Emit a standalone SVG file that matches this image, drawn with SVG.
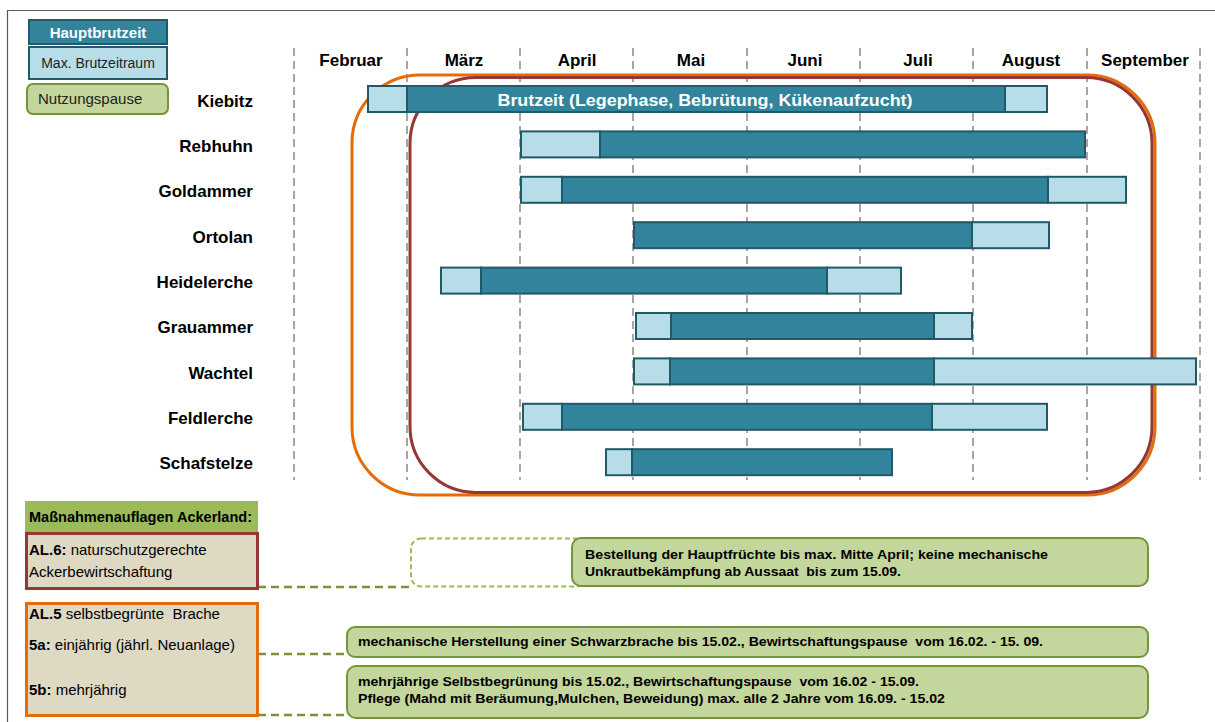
<svg xmlns="http://www.w3.org/2000/svg" width="1215" height="722" viewBox="0 0 1215 722">
<style>
text{font-family:"Liberation Sans",Arial,sans-serif;fill:#000}
.b{font-weight:bold}
.sp{font-size:17px;font-weight:bold;text-anchor:end}
.mo{font-size:17px;font-weight:bold;text-anchor:middle}
.d{fill:#31849B;stroke:#215968;stroke-width:2}
.l{fill:#B7DEE8;stroke:#215968;stroke-width:2}
.grid{stroke:#A6A6A6;stroke-width:2;stroke-dasharray:8,5}
.gb{fill:#C3D69B;stroke:#77933C;stroke-width:2}
.gt{font-size:13px;font-weight:bold}
.con{stroke:#77933C;stroke-width:2.5;stroke-dasharray:8,5;fill:none}
.bt{font-size:15px}
</style>
<rect x="0" y="0" width="1215" height="722" fill="#fff"/>
<path d="M7.5,722 V10.5 H1215" fill="none" stroke="#595959" stroke-width="1.2"/>

<g id="legend">
<rect x="29" y="20" width="138" height="24" class="d"/>
<text x="98" y="38" text-anchor="middle" class="b" style="font-size:15px;fill:#fff">Hauptbrutzeit</text>
<rect x="29" y="47" width="138" height="32" class="l"/>
<text x="98" y="68" text-anchor="middle" style="font-size:14px;fill:#222">Max. Brutzeitraum</text>
<rect x="27" y="84" width="141" height="30" rx="6" class="gb"/>
<text x="38" y="104" style="font-size:15px;fill:#222">Nutzungspause</text>
</g>

<g id="grid">
<line x1="294" y1="48" x2="294" y2="480" class="grid"/>
<line x1="407" y1="48" x2="407" y2="480" class="grid"/>
<line x1="520" y1="48" x2="520" y2="480" class="grid"/>
<line x1="633" y1="48" x2="633" y2="480" class="grid"/>
<line x1="747" y1="48" x2="747" y2="480" class="grid"/>
<line x1="860" y1="48" x2="860" y2="480" class="grid"/>
<line x1="973" y1="48" x2="973" y2="480" class="grid"/>
<line x1="1087" y1="48" x2="1087" y2="480" class="grid"/>
<line x1="1200" y1="48" x2="1200" y2="480" class="grid"/>
</g>

<g id="months">
<text x="351" y="66" class="mo">Februar</text>
<text x="464" y="66" class="mo">März</text>
<text x="577" y="66" class="mo">April</text>
<text x="691" y="66" class="mo">Mai</text>
<text x="805" y="66" class="mo">Juni</text>
<text x="918" y="66" class="mo">Juli</text>
<text x="1031" y="66" class="mo">August</text>
<text x="1145" y="66" class="mo">September</text>
</g>

<g id="zones">
<rect x="352" y="75" width="803" height="420" rx="68" ry="68" fill="none" stroke="#E46C0A" stroke-width="3"/>
<rect x="410" y="77.5" width="742" height="415" rx="66" ry="66" fill="none" stroke="#953735" stroke-width="3"/>
</g>

<g id="kiebitz">
<text x="253" y="107" class="sp">Kiebitz</text>
<rect x="368" y="86" width="39" height="26" class="l"/>
<rect x="407" y="86" width="598" height="26" class="d"/>
<rect x="1005" y="86" width="42" height="26" class="l"/>
<text x="705" y="106" text-anchor="middle" class="b" style="font-size:16px;fill:#fff" textLength="415" lengthAdjust="spacingAndGlyphs">Brutzeit (Legephase, Bebrütung, Kükenaufzucht)</text>
</g>
<g id="rebhuhn">
<text x="253" y="152" class="sp">Rebhuhn</text>
<rect x="521" y="131.4" width="79" height="26" class="l"/>
<rect x="600" y="131.4" width="485" height="26" class="d"/>
</g>
<g id="goldammer">
<text x="253" y="197" class="sp">Goldammer</text>
<rect x="521" y="176.8" width="41" height="26" class="l"/>
<rect x="562" y="176.8" width="486" height="26" class="d"/>
<rect x="1048" y="176.8" width="78" height="26" class="l"/>
</g>
<g id="ortolan">
<text x="253" y="243" class="sp">Ortolan</text>
<rect x="634" y="222.2" width="338" height="26" class="d"/>
<rect x="972" y="222.2" width="77" height="26" class="l"/>
</g>
<g id="heidelerche">
<text x="253" y="288" class="sp">Heidelerche</text>
<rect x="441" y="267.6" width="40" height="26" class="l"/>
<rect x="481" y="267.6" width="346" height="26" class="d"/>
<rect x="827" y="267.6" width="74" height="26" class="l"/>
</g>
<g id="grauammer">
<text x="253" y="333" class="sp">Grauammer</text>
<rect x="636" y="313" width="35" height="26" class="l"/>
<rect x="671" y="313" width="263" height="26" class="d"/>
<rect x="934" y="313" width="38" height="26" class="l"/>
</g>
<g id="wachtel">
<text x="253" y="379" class="sp">Wachtel</text>
<rect x="634" y="358.4" width="36" height="26" class="l"/>
<rect x="670" y="358.4" width="264" height="26" class="d"/>
<rect x="934" y="358.4" width="262" height="26" class="l"/>
</g>
<g id="feldlerche">
<text x="253" y="424" class="sp">Feldlerche</text>
<rect x="523" y="403.8" width="39" height="26" class="l"/>
<rect x="562" y="403.8" width="370" height="26" class="d"/>
<rect x="932" y="403.8" width="115" height="26" class="l"/>
</g>
<g id="schafstelze">
<text x="253" y="469" class="sp">Schafstelze</text>
<rect x="606" y="449.2" width="26" height="26" class="l"/>
<rect x="632" y="449.2" width="260" height="26" class="d"/>
</g>

<g id="connectors">
<path d="M258,587 H410" class="con"/>
<rect x="411" y="538.5" width="175" height="48" rx="10" fill="none" stroke="#9BBB59" stroke-width="2" stroke-dasharray="5,3"/>
<path d="M258,654 H347" class="con"/>
<path d="M258,715 H347" class="con"/>
</g>

<g id="massnahmen-header">
<rect x="25" y="501" width="233" height="31" fill="#9BBB59"/>
<text x="29" y="522" class="b" style="font-size:14px" textLength="223" lengthAdjust="spacingAndGlyphs">Maßnahmenauflagen Ackerland:</text>
</g>
<g id="al6">
<rect x="26.5" y="533.5" width="231" height="55" fill="#DDD9C3" stroke="#953735" stroke-width="3"/>
<text x="29" y="555" class="bt"><tspan class="b">AL.6:</tspan> naturschutzgerechte</text>
<text x="29" y="577" class="bt">Ackerbewirtschaftung</text>
</g>
<g id="al5">
<rect x="26.5" y="603.5" width="231" height="112" fill="#DDD9C3" stroke="#E46C0A" stroke-width="3"/>
<text x="29" y="619" class="bt" xml:space="preserve"><tspan class="b">AL.5</tspan> selbstbegrünte  Brache</text>
<text x="29" y="650" class="bt"><tspan class="b">5a:</tspan> einjährig (jährl. Neuanlage)</text>
<text x="29" y="695" class="bt"><tspan class="b">5b:</tspan> mehrjährig</text>
</g>

<g id="box-al6">
<rect x="572" y="538" width="576" height="48" rx="9" class="gb"/>
<text x="585" y="559" class="gt" textLength="463" lengthAdjust="spacingAndGlyphs">Bestellung der Hauptfrüchte bis max. Mitte April; keine mechanische</text>
<text x="585" y="576" class="gt" textLength="316" lengthAdjust="spacingAndGlyphs" xml:space="preserve">Unkrautbekämpfung ab Aussaat  bis zum 15.09.</text>
</g>
<g id="box-5a">
<rect x="347" y="627" width="801" height="30" rx="8" class="gb"/>
<text x="358" y="646" class="gt" textLength="685" lengthAdjust="spacingAndGlyphs" xml:space="preserve">mechanische Herstellung einer Schwarzbrache bis 15.02., Bewirtschaftungspause  vom 16.02. - 15. 09.</text>
</g>
<g id="box-5b">
<rect x="347" y="666" width="801" height="52" rx="9" class="gb"/>
<text x="358" y="686" class="gt" textLength="561" lengthAdjust="spacingAndGlyphs" xml:space="preserve">mehrjährige Selbstbegrünung bis 15.02., Bewirtschaftungspause  vom 16.02 - 15.09.</text>
<text x="358" y="703" class="gt" textLength="587" lengthAdjust="spacingAndGlyphs">Pflege (Mahd mit Beräumung,Mulchen, Beweidung) max. alle 2 Jahre vom 16.09. - 15.02</text>
</g>
</svg>
